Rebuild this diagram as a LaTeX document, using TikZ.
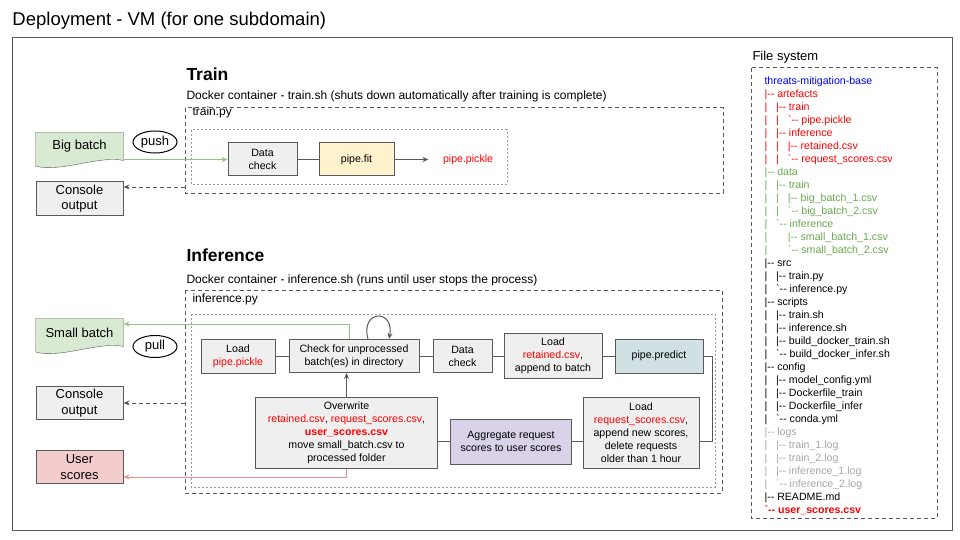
\documentclass[tikz,border=0pt]{standalone}
\usepackage{fontspec}
\setmainfont{Liberation Sans}
\newfontfamily\treefont{Liberation Sans}
\usepackage{xcolor}
\usetikzlibrary{positioning,shapes.geometric,backgrounds,arrows.meta}

\definecolor{linegray}{HTML}{595959}
\definecolor{boxgray}{HTML}{EFEFEF}
\definecolor{dotgray}{HTML}{9A9A9A}
\definecolor{fityellow}{HTML}{FFF2CC}
\definecolor{predictblue}{HTML}{D0E0E3}
\definecolor{aggpurple}{HTML}{D9D2E9}
\definecolor{batchgreen}{HTML}{D9EAD3}
\definecolor{scorered}{HTML}{F4CCCC}
\definecolor{arrowgreen}{HTML}{93C47D}
\definecolor{arrowred}{HTML}{E59090}
\definecolor{filered}{HTML}{FF0000}
\definecolor{fileblue}{HTML}{0000FF}
\definecolor{filegreen}{HTML}{6AA84F}
\definecolor{filegray}{HTML}{A6A6A6}

\newcommand{\tpipe}{\makebox[11.7pt][l]{|}}
\newcommand{\tgap}{\hspace*{11.7pt}}
\newcommand{\redfile}[1]{\textcolor{filered}{#1}}

\tikzset{
    box/.style={draw=linegray, fill=boxgray, inner sep=0pt, align=center,
        font=\fontsize{10.6}{13}\selectfont},
    sidebox/.style={box, minimum width=87pt, minimum height=33pt,
        font=\fontsize{13}{15.7}\selectfont},
    batchtext/.style={minimum width=87pt, minimum height=27pt, inner sep=0pt,
        font=\fontsize{13}{15.7}\selectfont},
    batchshape/.style={draw=linegray, fill=batchgreen},
    bubble/.style={ellipse, draw=black, minimum width=44pt, minimum height=22pt,
        inner sep=0pt, font=\fontsize{13}{15.7}\selectfont},
    heading/.style={anchor=base west, inner sep=0pt,
        font=\bfseries\fontsize{17.5}{20}\selectfont},
    subhead/.style={anchor=base west, inner sep=0pt, font=\fontsize{12}{14}\selectfont},
    container/.style={draw=linegray, dash pattern=on 4pt off 3pt},
    process/.style={draw=dotgray, dash pattern=on 2pt off 2pt},
    link/.style={draw=linegray},
    pushline/.style={draw=arrowgreen},
    scoreline/.style={draw=arrowred},
    logline/.style={draw=linegray, dash pattern=on 4pt off 3pt},
    fslist/.style={align=left, inner sep=0pt, font=\treefont\fontsize{10.6}{13}\selectfont},
}

\begin{document}
\begin{tikzpicture}[x=1pt, y=-1pt, line width=1pt, >={Stealth[length=6pt,width=5pt]}]
    \useasboundingbox (0,0) rectangle (960,540);

    % VM frame
    \node[anchor=base west, inner sep=0pt, font=\fontsize{18.5}{22}\selectfont] (vmtitle) at (12,26) {Deployment - VM (for one subdomain)};
    \draw[draw=linegray] (12,38) rectangle (952,530);

    % Train
    \node[heading] (trainhead) at (186,81) {Train};
    \node[subhead] (traindocker) at (186,99.5) {Docker container - train.sh (shuts down automatically after training is complete)};
    \draw[container] (185,108) rectangle (723,193);
    \node[subhead] (trainpy) at (192,115.5) {train.py};
    \draw[process] (191,130) rectangle (507,184);

    \node[box, minimum width=69pt, minimum height=33pt] (dcheckT) at (262.5,159.5) {Data\\check};
    \node[box, fill=fityellow, minimum width=75pt, minimum height=33pt, right=21pt of dcheckT] (fitT) {pipe.fit};
    \node[right=48pt of fitT, inner sep=0pt, text=filered, font=\fontsize{10.6}{13}\selectfont] (pickleT) {pipe.pickle};

    \node[batchtext] (bigbatch) at (79.5,146.5) {Big batch};
    \node[bubble] (push) at (155,142) {push};
    \node[sidebox] (consoleT) at (79.5,198.5) {Console\\output};
    \coordinate (trainout) at (185,187);

    \draw[->, pushline] (dcheckT.west -| bigbatch.east) -- (dcheckT.west);
    \draw[link] (dcheckT) -- (fitT);
    \draw[->, link, shorten >=14pt] (fitT) -- (pickleT);
    \draw[->, logline] (trainout) -- (trainout -| consoleT.east);

    % Inference
    \node[heading] (infhead) at (186,261) {Inference};
    \node[subhead] (infdocker) at (186,283.5) {Docker container - inference.sh (runs until user stops the process)};
    \draw[container] (185,290) rectangle (722,493);
    \node[subhead] (infpy) at (192,302.5) {inference.py};
    \draw[process] (191,314) rectangle (715,487);

    \node[box, minimum width=74pt, minimum height=34pt] (loadpk) at (238,356) {Load\\\redfile{pipe.pickle}};
    \node[box, minimum width=130pt, minimum height=33pt, right=13pt of loadpk] (checkI) {Check for unprocessed\\batch(es) in directory};
    \node[box, minimum width=59pt, minimum height=33pt, right=13pt of checkI] (dcheckI) {Data\\check};
    \node[box, minimum width=98pt, minimum height=45pt, right=11pt of dcheckI] (loadret) {Load\\\redfile{retained.csv},\\append to batch};
    \node[box, fill=predictblue, minimum width=88pt, minimum height=34pt, right=12pt of loadret] (predict) {pipe.predict};

    \node[box, minimum width=182pt, minimum height=71pt] (overwrite) at (346.5,433) {Overwrite\\\redfile{retained.csv}, \redfile{request\_scores.csv},\\\redfile{\textbf{user\_scores.csv}}\\move small\_batch.csv to\\processed folder};
    \node[box, fill=aggpurple, minimum width=121pt, minimum height=45pt] (aggregate) at (511,441.5) {Aggregate request\\scores to user scores};
    \node[box, minimum width=116pt, minimum height=71pt] (loadreq) at (641,432.5) {Load\\\redfile{request\_scores.csv},\\append new scores,\\delete requests\\older than 1 hour};

    \node[batchtext] (smallbatch) at (79.5,332.5) {Small batch};
    \node[bubble] (pull) at (155,346.5) {pull};
    \node[sidebox] (consoleI) at (79.5,403) {Console\\output};
    \node[sidebox, fill=scorered] (userscores) at (79.5,467) {User\\scores};
    \coordinate (infout) at (185,403);
    \coordinate (pullin) at ([yshift=8.5pt]smallbatch.east);
    \coordinate (scoresin) at ([yshift=-10pt]userscores.east);

    \draw[link] (loadpk) -- (checkI);
    \draw[link] (checkI) -- (dcheckI);
    \draw[link] (dcheckI) -- (loadret);
    \draw[link] (loadret) -- (predict);
    \draw[link] (predict.east) -- ++(9,0) |- (aggregate.east -| loadreq.east);
    \draw[link] (loadreq.west |- aggregate.east) -- (aggregate.east);
    \draw[link] (aggregate.west) -- (aggregate.west -| overwrite.east);
    \draw[->, link] (overwrite.north) -- (overwrite.north |- checkI.south);
    \draw[->, link] ([xshift=14pt]checkI.north) .. controls +(-8,-30) and +(6,-30) .. ([xshift=35pt]checkI.north);
    \draw[->, pushline] ([xshift=-5pt]checkI.north) |- (pullin);
    \draw[->, scoreline] (overwrite.south) |- (scoresin);
    \draw[->, logline] (infout) -- (consoleI.east);

    % batch documents
    \begin{scope}[on background layer]
        \draw[batchshape] (bigbatch.north west) -- (bigbatch.north east) -- (bigbatch.south east)
            .. controls +(-23,-5.5) and +(24,7) .. ([yshift=-5.5pt]bigbatch.south west) -- cycle;
        \draw[batchshape] (smallbatch.north west) -- (smallbatch.north east) -- (smallbatch.south east)
            .. controls +(-23,-5.5) and +(24,7) .. ([yshift=-5.5pt]smallbatch.south west) -- cycle;
    \end{scope}

    % File system
    \node[anchor=base west, inner sep=0pt, font=\fontsize{13}{15.7}\selectfont] (fshead) at (752,60.5) {File system};
    \draw[container] (751,68) rectangle (937,518);
    \node[fslist, anchor=north west] (fstree) at (764,76) {%
        \textcolor{fileblue}{threats-mitigation-base}\\
        \textcolor{filered}{|-- artefacts}\\
        \textcolor{filered}{\tpipe|-- train}\\
        \textcolor{filered}{\tpipe\tpipe`-- pipe.pickle}\\
        \textcolor{filered}{\tpipe|-- inference}\\
        \textcolor{filered}{\tpipe\tpipe|-- retained.csv}\\
        \textcolor{filered}{\tpipe\tpipe`-- request\_scores.csv}\\
        \textcolor{filegreen}{|-- data}\\
        \textcolor{filegreen}{\tpipe|-- train}\\
        \textcolor{filegreen}{\tpipe\tpipe|-- big\_batch\_1.csv}\\
        \textcolor{filegreen}{\tpipe\tpipe`-- big\_batch\_2.csv}\\
        \textcolor{filegreen}{\tpipe`-- inference}\\
        \textcolor{filegreen}{\tpipe\tgap|-- small\_batch\_1.csv}\\
        \textcolor{filegreen}{\tpipe\tgap`-- small\_batch\_2.csv}\\
        |-- src\\
        \tpipe|-- train.py\\
        \tpipe`-- inference.py\\
        |-- scripts\\
        \tpipe|-- train.sh\\
        \tpipe|-- inference.sh\\
        \tpipe|-- build\_docker\_train.sh\\
        \tpipe`-- build\_docker\_infer.sh\\
        |-- config\\
        \tpipe|-- model\_config.yml\\
        \tpipe|-- Dockerfile\_train\\
        \tpipe|-- Dockerfile\_infer\\
        \tpipe`-- conda.yml\\
        \textcolor{filegray}{|-- logs}\\
        \textcolor{filegray}{\tpipe|-- train\_1.log}\\
        \textcolor{filegray}{\tpipe|-- train\_2.log}\\
        \textcolor{filegray}{\tpipe|-- inference\_1.log}\\
        \textcolor{filegray}{\tpipe`-- inference\_2.log}\\
        |-- README.md\\
        \textcolor{filered}{\textbf{`-- user\_scores.csv}}};
\end{tikzpicture}
\end{document}
